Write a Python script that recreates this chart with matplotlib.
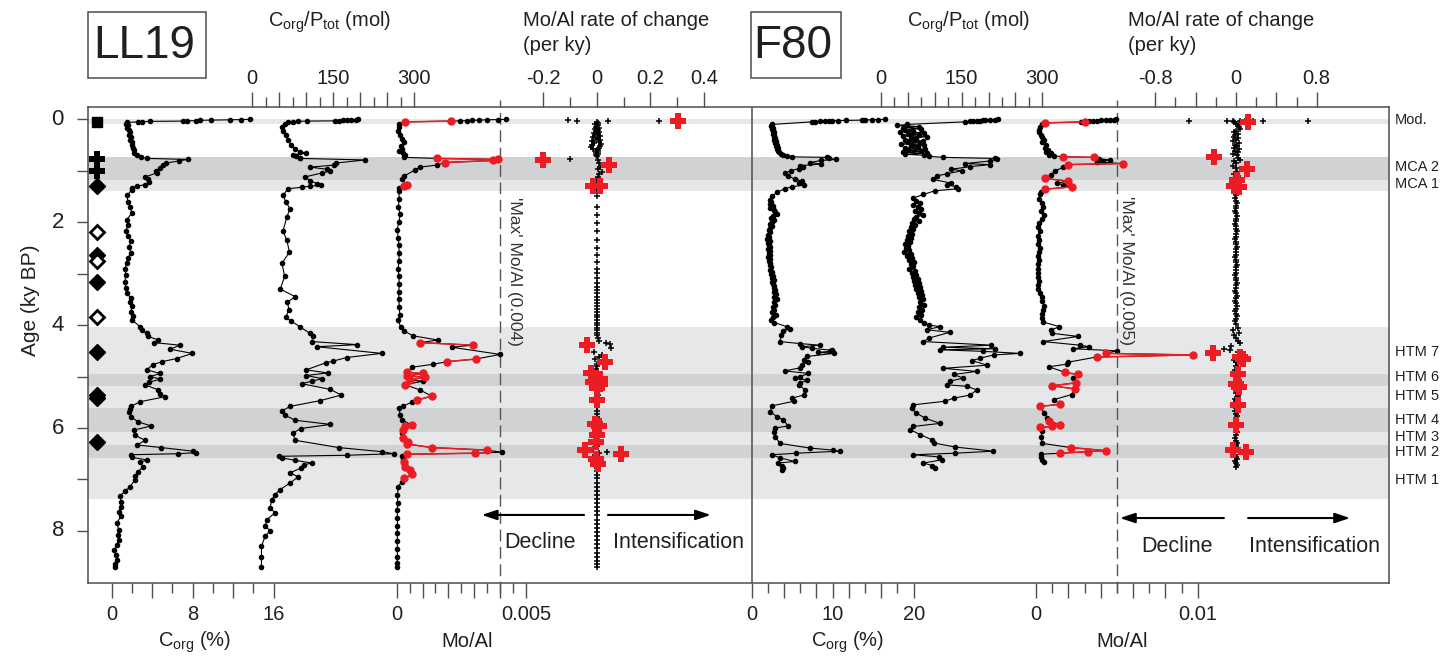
import matplotlib
matplotlib.use('Agg')
import matplotlib.pyplot as plt
import numpy as np
from matplotlib.ticker import FixedLocator, FixedFormatter, NullFormatter
from matplotlib.patches import Rectangle

plt.rcParams['font.family'] = ['Liberation Sans', 'DejaVu Sans']
plt.rcParams['mathtext.fontset'] = 'custom'
plt.rcParams['mathtext.rm'] = 'Liberation Sans'
plt.rcParams['mathtext.it'] = 'Liberation Sans:italic'

# ---------------- DATA ----------------
age_ticks = [0, 2, 4, 6, 8]
band_top = [-0.01, 0.735, 1.18, 4.03, 4.95, 5.18, 5.61, 6.07, 6.33, 6.58]
band_bot = [0.09, 1.18, 1.385, 4.95, 5.18, 5.61, 6.07, 6.33, 6.58, 7.38]
band_dark = [0, 1, 0, 0, 1, 0, 1, 0, 1, 0]
band_labels = ['Mod.', 'MCA 2', 'MCA 1', 'HTM 7', 'HTM 6', 'HTM 5', 'HTM 4', 'HTM 3', 'HTM 2', 'HTM 1']
band_label_ages = [0.02, 0.93, 1.26, 4.52, 5.01, 5.38, 5.85, 6.18, 6.47, 7.01]

sym_square_ages = [0.05]
sym_plus_ages = [0.77, 1.0]
sym_diamond_ages = [1.29, 2.64, 3.17, 4.53, 5.36, 5.42, 6.28]
sym_open_diamond_ages = [2.19, 2.75, 3.84]

ll19_corg = [(0.00,13.7),(0.005,12.8),(0.01,11.7),(0.015,9.8),(0.02,8.7),(0.025,8.3),(0.03,7.4),(0.035,7.0),
    (0.04,3.8),(0.045,3.0),(0.05,2.6),(0.06,1.5),(0.09,1.4),(0.12,1.6),(0.16,1.5),(0.20,1.7),(0.25,1.8),(0.30,1.7),
    (0.35,1.9),(0.40,1.8),(0.45,2.0),(0.50,2.0),(0.55,2.1),(0.60,2.2),(0.65,2.2),(0.70,2.5),(0.74,2.9),
    (0.76,3.5),(0.78,7.5),(0.81,6.6),(0.85,5.4),(0.88,5.1),(0.95,4.8),(1.00,4.4),(1.04,4.5),(1.12,3.3),(1.17,3.6),
    (1.22,3.7),(1.27,3.3),(1.30,2.5),(1.33,2.0),(1.37,2.0),(1.48,1.5),(1.60,1.6),(1.70,1.8),(1.82,2.0),(1.95,1.5),
    (2.05,1.6),(2.17,1.4),(2.27,1.6),(2.37,1.9),(2.48,1.7),(2.59,1.9),(2.70,1.6),(2.80,1.5),(2.90,1.3),(3.03,1.4),
    (3.16,1.3),(3.28,1.4),(3.38,1.5),(3.48,1.9),(3.55,1.8),(3.63,2.0),(3.74,1.9),(3.82,2.1),(3.90,2.0),
    (4.03,2.8),(4.10,3.0),(4.16,3.45),(4.22,3.6),(4.29,4.6),(4.34,4.2),(4.39,6.7),(4.47,5.8),(4.55,7.96),(4.65,6.4),
    (4.71,5.0),(4.77,4.05),(4.87,3.45),(4.94,4.8),(5.00,3.8),(5.05,4.8),(5.11,3.7),(5.16,3.3),(5.26,4.6),(5.33,4.8),
    (5.39,5.3),(5.49,2.8),(5.58,1.9),(5.63,1.8),(5.68,1.7),(5.78,1.9),(5.88,2.6),(5.96,3.9),(6.04,2.2),(6.14,2.3),
    (6.24,3.3),(6.33,2.5),(6.38,4.9),(6.45,8.0),(6.48,8.3),(6.50,6.5),(6.52,1.9),(6.57,2.0),(6.62,3.45),(6.67,2.8),
    (6.75,3.1),(6.85,2.6),(6.94,2.3),(7.01,2.3),(7.14,1.8),(7.23,1.3),(7.33,0.8),(7.43,0.95),(7.53,0.9),(7.63,0.7),
    (7.72,0.9),(7.85,0.5),(7.98,0.7),(8.08,0.6),(8.17,0.7),(8.27,0.5),(8.37,0.25),(8.47,0.4),(8.56,0.5),(8.64,0.3),(8.70,0.35)]

ll19_cp = [(0.00,197),(0.005,192),(0.01,184),(0.015,175),(0.02,169),(0.025,160),(0.03,153),(0.035,101),(0.04,85),
    (0.045,76),(0.05,67),(0.09,60),(0.15,55),(0.22,57),(0.30,62),(0.40,66),(0.50,72),(0.58,80),(0.63,88),(0.66,100),
    (0.69,75),(0.72,82),(0.745,88),(0.76,88),(0.79,210),(0.85,155),(0.89,152),(0.93,107),(0.97,138),(1.01,144),
    (1.04,130),(1.12,98),(1.19,107),(1.25,120),(1.28,128),(1.30,107),(1.32,92),(1.35,66),(1.48,57),(1.60,62),
    (1.74,70),(1.90,64),(2.17,57),(2.35,64),(2.58,69),(2.80,55),(3.05,60),(3.30,52),(3.45,80),(3.55,65),(3.70,68),
    (3.85,62),(3.92,72),(4.03,88),(4.16,107),(4.22,113),(4.32,110),(4.38,195),(4.42,120),(4.55,240),(4.63,175),
    (4.70,150),(4.73,137),(4.87,100),(4.93,140),(4.98,100),(5.04,130),(5.09,110),(5.14,92),(5.25,145),(5.36,165),
    (5.47,125),(5.58,70),(5.67,55),(5.75,60),(5.85,80),(5.93,145),(6.01,90),(6.10,75),(6.24,80),(6.38,160),
    (6.46,240),(6.50,262),(6.53,175),(6.55,50),(6.58,55),(6.63,80),(6.68,110),(6.72,95),(6.78,90),(6.87,70),
    (6.95,85),(7.07,70),(7.20,51),(7.30,42),(7.40,36),(7.55,33),(7.65,42),(7.78,27),(7.90,24),(8.00,33),(8.10,24),
    (8.30,17),(8.50,17),(8.70,17)]

# (age, Mo/Al, highlighted)
ll19_moal = [(0.000,0.00423,0),(0.005,0.00393,0),(0.01,0.00348,0),(0.015,0.00320,0),(0.02,0.00290,0),(0.025,0.00270,0),
    (0.03,0.00245,0),(0.035,0.00209,1),(0.05,0.00032,1),(0.09,0.00010,0),(0.15,0.00008,0),(0.22,0.00006,0),
    (0.30,0.00012,0),(0.38,0.00020,0),(0.45,0.00030,0),(0.52,0.00018,0),(0.58,0.00022,0),(0.62,0.00010,0),
    (0.66,0.00026,0),(0.70,0.00032,0),(0.74,0.00030,0),(0.76,0.00155,1),(0.78,0.00393,1),(0.80,0.00374,1),
    (0.84,0.00187,1),(0.89,0.00155,0),(0.93,0.00090,0),(0.98,0.00072,0),(1.10,0.00030,0),(1.17,0.00020,0),
    (1.25,0.00035,0),(1.28,0.00040,1),(1.30,0.00030,1),(1.33,0.00010,0),(1.40,0.00008,0),(1.55,0.00010,0),
    (1.70,0.00006,0),(1.85,0.00014,0),(2.00,0.00008,0),(2.15,0.00002,0),(2.30,0.00006,0),(2.45,0.00008,0),
    (2.60,0.00010,0),(2.75,0.00008,0),(2.90,0.00006,0),(3.05,0.00008,0),(3.20,0.00010,0),(3.35,0.00008,0),
    (3.50,0.00008,0),(3.65,0.00010,0),(3.80,0.00012,0),(3.90,0.00005,0),(4.03,0.00015,0),(4.12,0.00030,0),
    (4.21,0.00064,0),(4.29,0.00160,0),(4.34,0.00090,1),(4.39,0.00294,1),(4.43,0.00213,0),(4.57,0.00400,0),
    (4.66,0.00306,1),(4.71,0.00196,1),(4.76,0.00142,0),(4.82,0.00058,0),(4.92,0.00039,1),(4.94,0.00100,1),
    (4.99,0.00039,1),(5.01,0.00109,1),(5.07,0.00051,1),(5.09,0.00100,0),(5.16,0.00032,1),(5.26,0.00090,0),
    (5.38,0.00135,1),(5.46,0.00077,1),(5.50,0.00058,0),(5.57,0.00026,0),(5.62,0.00010,0),(5.75,0.00013,0),
    (5.84,0.00019,0),(5.94,0.00058,1),(5.96,0.00032,1),(6.03,0.00026,1),(6.10,0.00019,0),(6.20,0.00026,1),
    (6.27,0.00045,1),(6.31,0.00039,1),(6.38,0.00135,1),(6.43,0.00348,1),(6.47,0.00406,0),(6.49,0.00303,1),
    (6.51,0.00039,1),(6.55,0.00020,0),(6.60,0.00026,0),(6.66,0.00030,1),(6.75,0.00032,1),(6.81,0.00050,1),
    (6.90,0.00060,1),(6.98,0.00030,1),(7.04,0.00020,0),(7.14,0.00006,0),(7.30,0.00003,0),(7.45,0.00004,0),
    (7.60,0.00002,0),(7.75,0.00003,0),(7.90,0.00003,0),(8.05,0.00002,0),(8.20,0.00003,0),(8.35,0.00002,0),
    (8.50,0.00003,0),(8.62,0.00002,0),(8.70,0.00003,0)]

ll19_rate = [(0.02,-0.108),(0.025,-0.075),(0.03,0.043),(0.03,0.233),
    (0.06,0.0),(0.08,0.006),(0.10,-0.006),(0.12,0.004),(0.14,-0.004),(0.16,0.008),(0.18,-0.008),(0.20,0.006),
    (0.22,-0.004),(0.24,0.010),(0.26,-0.010),(0.28,0.004),(0.30,-0.006),(0.32,0.012),(0.34,-0.012),(0.36,0.006),
    (0.38,-0.004),(0.40,0.014),(0.42,-0.016),(0.44,0.010),(0.46,-0.010),(0.48,0.016),(0.50,-0.018),(0.52,0.012),
    (0.54,-0.022),(0.56,0.008),(0.58,-0.012),(0.60,0.006),(0.62,-0.004),(0.64,0.004),(0.66,-0.002),(0.68,0.003),
    (0.70,-0.004),(0.72,0.002),(0.77,-0.10),(0.80,0.004),(0.84,0.010),(0.92,0.012),(0.97,0.005),(1.02,0.018),
    (1.07,0.010),(1.13,0.004),(1.18,-0.004),(1.23,0.003),(1.33,0.0),(1.38,0.0),
    (1.50,0.0),(1.70,0.0),(1.86,0.0),(2.02,0.0),(2.18,0.0),(2.35,0.0),(2.51,0.0),(2.64,0.0),(2.77,0.0),(2.90,0.0),
    (2.99,0.0),(3.09,0.0),(3.19,0.0),(3.25,0.0),(3.32,0.0),(3.38,0.0),(3.45,0.0),(3.51,0.0),(3.57,0.0),(3.63,0.0),
    (3.69,0.0),(3.75,0.0),(3.80,0.0),(3.85,0.0),(3.90,0.0),(3.95,0.0),(4.00,0.0),(4.05,0.0),(4.10,0.0),(4.15,0.0),
    (4.20,0.0),(4.26,0.005),(4.31,0.01),(4.35,0.035),(4.37,0.048),(4.45,0.055),
    (4.52,-0.01),(4.58,0.02),(4.62,0.01),(4.66,-0.005),(4.75,0.0),(4.80,0.0),(4.86,-0.003),(4.91,0.0),
    (4.97,0.004),(5.01,-0.012),(5.06,0.016),(5.12,0.0),(5.18,0.004),(5.24,0.0),(5.30,0.0),(5.36,0.003),
    (5.42,0.0),(5.48,0.0),(5.54,0.0),(5.60,0.0),(5.66,0.0),(5.72,0.0),(5.78,0.0),(5.84,0.0),(5.89,0.0),
    (6.00,0.0),(6.05,0.0),(6.10,0.0),(6.16,0.0),(6.22,0.0),(6.35,0.0),(6.40,-0.015),(6.46,0.037),(6.49,0.01),
    (6.53,-0.005),(6.56,0.005),(6.61,0.0),(6.66,0.0),(6.72,0.0),(6.78,0.0),(6.84,0.0),(6.92,0.0),(6.97,0.0),
    (7.06,0.0),(7.14,0.0),(7.22,0.0),(7.30,0.0),(7.38,0.0),(7.46,0.0),(7.54,0.0),(7.62,0.0),(7.70,0.0),(7.78,0.0),
    (7.86,0.0),(7.94,0.0),(8.02,0.0),(8.10,0.0),(8.18,0.0),(8.26,0.0),(8.34,0.0),(8.42,0.0),(8.50,0.0),(8.58,0.0),
    (8.65,0.0),(8.71,0.0)]

ll19_rate_red = [(0.03,0.304),(0.79,-0.199),(0.89,0.046),(1.29,-0.012),(1.29,0.012),(4.39,-0.037),(4.71,0.031),
    (4.94,-0.022),(5.04,0.012),(5.10,-0.015),(5.15,0.012),(5.22,0.002),(5.45,0.0),(5.92,-0.005),(5.96,0.01),
    (6.13,0.0),(6.28,-0.003),(6.43,-0.043),(6.51,0.089),(6.60,-0.004),(6.70,0.004)]

f80_corg = [(0.00,16.5),(0.004,15.6),(0.008,14.8),(0.012,14.0),(0.016,13.6),(0.02,11.7),(0.024,10.7),(0.028,9.9),
    (0.032,9.5),(0.036,9.0),(0.04,8.4),(0.044,7.8),(0.05,7.4),(0.10,2.5),(0.13,2.4),(0.16,2.6),(0.19,2.5),(0.22,2.6),
    (0.25,2.7),(0.28,2.6),(0.31,2.8),(0.34,2.7),(0.37,2.9),(0.40,2.8),(0.43,3.0),(0.46,2.9),(0.49,3.1),(0.52,3.0),
    (0.55,3.2),(0.58,3.1),(0.61,3.3),(0.64,3.4),(0.67,3.6),(0.69,3.9),(0.71,4.4),(0.73,5.0),(0.74,9.3),(0.76,9.6),
    (0.78,10.4),(0.80,8.6),(0.84,7.2),(0.87,8.6),(0.90,6.0),(0.93,6.3),(0.96,5.8),(1.00,4.8),(1.05,4.1),(1.10,4.5),
    (1.16,5.3),(1.20,6.2),(1.24,5.9),(1.28,6.4),(1.31,5.0),(1.35,4.1),(1.42,3.1),(1.50,2.5),(1.57,2.3),(1.60,2.4),
    (1.64,2.2),(1.68,2.6),(1.72,2.3),(1.76,2.8),(1.80,2.9),(1.84,3.1),(1.88,2.6),(1.92,2.4),(1.96,2.7),(2.00,2.5),
    (2.04,2.3),(2.08,2.5),(2.12,2.2),(2.16,2.1),(2.20,2.3),(2.24,2.0),(2.28,2.1),(2.32,1.9),(2.36,2.2),(2.40,2.0),
    (2.44,2.1),(2.48,2.3),(2.52,2.0),(2.56,2.2),(2.60,2.1),(2.64,2.3),(2.68,2.0),(2.72,2.2),(2.76,2.1),(2.80,2.3),
    (2.84,2.2),(2.88,2.4),(2.92,2.3),(2.96,2.5),(3.00,2.4),(3.04,2.6),(3.08,2.5),(3.12,2.7),(3.16,2.5),(3.20,2.6),
    (3.24,2.8),(3.28,2.7),(3.32,2.9),(3.36,2.8),(3.40,3.0),(3.45,2.8),(3.50,3.1),(3.55,2.7),(3.60,2.9),(3.65,2.6),
    (3.70,2.8),(3.75,2.5),(3.80,3.0),(3.85,2.6),(3.90,2.4),(3.95,2.8),(4.03,4.3),(4.07,4.7),(4.12,3.9),(4.20,3.6),
    (4.32,3.5),(4.36,6.0),(4.39,8.4),(4.42,6.2),(4.45,7.4),(4.49,9.9),(4.51,9.7),(4.53,8.2),(4.55,10.1),(4.61,6.8),
    (4.67,6.4),(4.71,7.0),(4.78,6.2),(4.83,6.0),(4.89,4.1),(4.94,7.0),(5.00,6.0),(5.03,5.4),(5.07,6.8),(5.13,6.0),
    (5.16,5.8),(5.26,6.6),(5.36,6.4),(5.42,5.0),(5.48,5.2),(5.57,2.5),(5.68,2.3),(5.78,3.1),(5.84,3.9),(5.96,4.5),
    (6.00,2.9),(6.07,2.7),(6.17,2.9),(6.30,3.5),(6.39,7.2),(6.43,10.0),(6.45,10.9),(6.49,5.5),(6.52,2.5),(6.58,3.5),
    (6.65,5.3),(6.68,3.3),(6.74,3.7),(6.78,3.9),(6.81,3.7)]

f80_cp = [(0.00,218),(0.005,212),(0.01,203),(0.015,194),(0.02,190),(0.025,184),(0.03,178),(0.035,172),(0.04,166),
    (0.05,156),(0.10,48),(0.12,30),(0.14,70),(0.16,40),(0.18,75),(0.20,45),(0.22,60),(0.24,35),(0.26,80),(0.28,50),
    (0.30,70),(0.32,40),(0.34,85),(0.36,55),(0.38,65),(0.40,45),(0.42,78),(0.44,50),(0.46,72),(0.48,38),(0.50,80),
    (0.52,55),(0.54,68),(0.56,45),(0.58,82),(0.60,50),(0.62,75),(0.64,40),(0.66,85),(0.68,45),(0.70,80),(0.72,90),
    (0.74,116),(0.76,212),(0.78,215),(0.81,203),(0.86,156),(0.88,203),(0.92,166),(0.97,131),(1.00,150),(1.06,122),
    (1.10,104),(1.17,97),(1.24,131),(1.27,122),(1.31,140),(1.35,143),(1.39,100),(1.46,79),(1.53,60),(1.58,66),
    (1.62,72),(1.66,60),(1.70,68),(1.74,74),(1.78,64),(1.82,70),(1.86,78),(1.90,66),(1.94,62),(1.98,70),(2.02,58),
    (2.06,64),(2.10,55),(2.14,60),(2.18,52),(2.22,58),(2.26,50),(2.30,56),(2.34,48),(2.38,54),(2.42,44),(2.46,50),
    (2.50,46),(2.54,52),(2.58,42),(2.62,55),(2.66,48),(2.70,58),(2.74,52),(2.78,62),(2.82,55),(2.86,60),(2.90,52),
    (2.94,64),(2.98,58),(3.02,66),(3.06,60),(3.10,68),(3.14,62),(3.18,70),(3.22,64),(3.26,72),(3.30,66),(3.34,74),
    (3.38,68),(3.42,76),(3.46,70),(3.50,78),(3.55,72),(3.60,80),(3.65,70),(3.70,76),(3.75,68),(3.80,74),(3.85,66),
    (3.90,72),(3.95,80),(4.00,90),(4.03,110),(4.09,85),(4.14,128),(4.25,90),(4.32,79),(4.39,205),(4.43,116),
    (4.46,212),(4.48,110),(4.51,190),(4.55,258),(4.58,210),(4.64,185),(4.69,170),(4.78,197),(4.84,116),(4.90,178),
    (4.96,135),(5.03,153),(5.09,128),(5.16,122),(5.19,160),(5.26,178),(5.36,166),(5.42,135),(5.48,119),(5.55,60),
    (5.62,57),(5.71,66),(5.81,82),(5.91,110),(5.97,60),(6.03,54),(6.13,73),(6.23,95),(6.29,98),(6.37,138),
    (6.45,209),(6.49,138),(6.52,60),(6.56,107),(6.62,113),(6.68,79),(6.73,95),(6.78,101)]

f80_moal = [(0.000,0.00495,0),(0.005,0.00480,0),(0.01,0.00460,0),(0.015,0.00430,0),(0.02,0.00400,0),
    (0.025,0.00375,0),(0.03,0.00350,0),(0.035,0.00330,0),(0.04,0.00300,0),(0.045,0.00280,0),(0.05,0.00303,1),
    (0.07,0.00056,1),(0.10,0.00035,0),(0.15,0.00025,0),(0.20,0.00020,0),(0.25,0.00020,0),(0.30,0.00030,0),
    (0.35,0.00040,0),(0.40,0.00050,0),(0.45,0.00040,0),(0.50,0.00060,0),(0.55,0.00055,0),(0.60,0.00075,0),
    (0.63,0.00060,0),(0.66,0.00090,0),(0.69,0.00080,0),(0.71,0.00110,0),(0.73,0.00169,1),(0.74,0.00360,1),
    (0.77,0.00390,0),(0.79,0.00457,0),(0.81,0.00416,0),(0.83,0.00380,0),(0.86,0.00536,1),(0.88,0.00199,1),
    (0.93,0.00170,0),(1.00,0.00120,0),(1.08,0.00090,0),(1.15,0.00056,1),(1.20,0.00195,1),(1.24,0.00130,0),
    (1.28,0.00170,0),(1.31,0.00225,1),(1.36,0.00056,1),(1.41,0.00030,0),(1.46,0.00025,0),(1.54,0.00020,0),
    (1.62,0.00035,0),(1.70,0.00045,0),(1.78,0.00030,0),(1.86,0.00050,0),(1.94,0.00035,0),(2.02,0.00020,0),
    (2.10,0.00015,0),(2.18,0.00025,0),(2.26,0.00010,0),(2.34,0.00020,0),(2.42,0.00015,0),(2.50,0.00025,0),
    (2.58,0.00020,0),(2.66,0.00010,0),(2.74,0.00020,0),(2.82,0.00015,0),(2.90,0.00010,0),(2.98,0.00015,0),
    (3.06,0.00010,0),(3.14,0.00020,0),(3.22,0.00010,0),(3.30,0.00015,0),(3.38,0.00025,0),(3.46,0.00035,0),
    (3.54,0.00040,0),(3.62,0.00050,0),(3.70,0.00045,0),(3.78,0.00040,0),(3.86,0.00035,0),(3.94,0.00045,0),
    (4.03,0.00145,0),(4.10,0.00090,0),(4.16,0.00100,0),(4.22,0.00260,0),(4.32,0.00045,0),(4.39,0.00270,0),
    (4.42,0.00330,0),(4.46,0.00230,0),(4.50,0.00500,0),(4.55,0.00430,1),(4.58,0.00970,1),(4.62,0.00375,1),
    (4.72,0.00200,0),(4.76,0.00190,0),(4.81,0.00080,0),(4.92,0.00180,1),(4.96,0.00260,1),(5.02,0.00230,0),
    (5.12,0.00250,1),(5.18,0.00100,1),(5.24,0.00240,1),(5.35,0.00220,0),(5.45,0.00110,0),(5.54,0.00150,1),
    (5.58,0.00025,1),(5.70,0.00050,0),(5.80,0.00070,0),(5.86,0.00080,1),(5.94,0.00150,1),(5.97,0.00100,1),
    (5.99,0.00025,1),(6.05,0.00040,0),(6.18,0.00030,0),(6.30,0.00040,0),(6.38,0.00215,1),(6.44,0.00430,1),
    (6.46,0.00320,1),(6.49,0.00150,1),(6.51,0.00030,0),(6.56,0.00030,0),(6.62,0.00040,0),(6.67,0.00050,0)]

f80_rate = [(0.03,-0.47),(0.03,-0.09),(0.035,-0.03),(0.04,0.04),(0.04,0.09),(0.035,0.17),(0.03,0.27),(0.03,0.71),
    (0.06,-0.02),(0.09,0.0),(0.12,0.02),(0.15,0.03),(0.18,0.04),(0.22,0.0),(0.25,-0.02),(0.28,0.02),(0.31,-0.01),
    (0.34,-0.02),(0.37,0.02),(0.40,0.0),(0.43,-0.03),(0.46,0.03),(0.49,-0.01),(0.52,0.01),(0.55,-0.02),(0.58,0.03),
    (0.61,-0.01),(0.64,0.02),(0.67,-0.03),(0.70,0.01),(0.76,0.02),(0.79,0.04),(0.82,-0.02),(0.84,0.0),(0.90,-0.03),
    (0.94,0.0),(1.02,0.01),(1.06,-0.02),(1.10,0.02),(1.14,-0.01),(1.22,0.01),(1.26,-0.02),(1.34,0.0),(1.38,0.01),
    (1.43,0.0),(1.48,0.0),(1.53,-0.01),(1.58,0.0),(1.63,0.01),(1.68,0.0),(1.73,0.0),(1.78,-0.01),(1.83,0.0),
    (1.88,0.01),(1.93,0.0),(1.98,0.0),(2.03,-0.01),(2.08,0.0),(2.13,0.0),(2.18,0.01),(2.23,0.0),(2.28,0.0),
    (2.33,-0.01),(2.38,0.0),(2.43,0.0),(2.48,0.01),(2.53,0.0),(2.58,0.0),(2.63,0.0),(2.68,-0.01),(2.73,0.0),
    (2.78,0.0),(2.83,0.01),(2.88,0.0),(2.93,0.0),(2.98,0.0),(3.03,-0.01),(3.08,0.0),(3.13,0.0),(3.18,0.01),
    (3.23,0.0),(3.28,0.0),(3.33,-0.01),(3.38,0.0),(3.43,0.01),(3.48,0.0),(3.53,-0.01),(3.58,0.0),(3.63,0.01),
    (3.68,0.0),(3.73,-0.01),(3.78,0.0),(3.83,0.01),(3.88,0.0),(3.93,-0.01),(3.98,0.0),(4.05,0.02),(4.10,-0.03),
    (4.15,0.03),(4.20,-0.02),(4.26,0.0),(4.30,0.02),(4.35,0.04),(4.40,-0.05),(4.46,-0.12),(4.49,-0.06),(4.52,0.02),
    (4.60,0.03),(4.68,-0.02),(4.72,0.0),(4.76,0.02),(4.80,0.0),(4.85,0.02),(4.88,-0.01),(4.92,0.01),(4.99,-0.01),
    (5.04,0.02),(5.08,0.0),(5.12,-0.02),(5.17,0.01),(5.22,-0.01),(5.28,0.01),(5.32,0.0),(5.38,0.02),(5.43,-0.01),
    (5.48,0.0),(5.52,0.01),(5.62,0.0),(5.66,-0.01),(5.72,0.0),(5.76,0.01),(5.82,0.0),(5.90,-0.01),(6.02,0.0),
    (6.08,0.01),(6.13,0.0),(6.20,-0.01),(6.25,0.0),(6.30,0.01),(6.34,0.0),(6.40,0.02),(6.52,-0.01),(6.56,0.0),
    (6.60,0.01),(6.64,-0.01),(6.68,0.0),(6.72,0.01),(6.76,0.0)]

f80_rate_red = [(0.05,0.12),(0.73,-0.22),(0.97,0.11),(1.18,0.01),(1.29,-0.02),(1.32,0.03),(4.55,-0.23),
    (4.62,0.04),(4.66,0.07),(4.95,0.02),(5.15,0.0),(5.20,0.03),(5.55,0.02),(5.95,0.0),(6.42,-0.03),(6.47,0.10)]

# ---------------- LAYOUT ----------------
W, H = 1441, 657
fig = plt.figure(figsize=(W / 100, H / 100), dpi=100)
L, R, T, B = 88, 1389, 107, 583
rect = [L / W, 1 - B / H, (R - L) / W, (B - T) / H]
Y0, KY = 119.3, 51.45          # pixel of age 0, pixels per ky
YLIM = ((B - Y0) / KY, (T - Y0) / KY)
FRAME = '#4d4d4d'
RED = '#ed1c24'
TXT = '#231f20'

ax = fig.add_axes(rect)
ax.set_xlim(0, 1)
ax.set_ylim(*YLIM)
ax.set_xticks([])
for s in ax.spines.values():
    s.set_color(FRAME)
    s.set_linewidth(1.1)
for t, b, d in zip(band_top, band_bot, band_dark):
    ax.axhspan(t, b, color='#d1d2d4' if d else '#e6e7e8', lw=0, zorder=0)
ax.set_yticks(age_ticks)
ax.set_yticks([1, 3, 5, 7], minor=True)
ax.tick_params(axis='y', which='both', direction='out', length=8, width=1, color=FRAME,
               labelleft=False)
for a_t in age_ticks:
    ax.text(-(88 - 64) / (R - L), a_t, str(a_t), transform=ax.get_yaxis_transform(), ha='right',
            va='center', fontsize=16, color=TXT)
for lab, a in zip(band_labels, band_label_ages):
    ax.text(1.0046, a, lab, transform=ax.get_yaxis_transform(), ha='left', va='center',
            fontsize=10.5, color=TXT)

# core-age symbols
ax.plot([0.0072] * len(sym_square_ages), sym_square_ages, 's', color='black', ms=6.5, zorder=5)
ax.plot([0.0072] * len(sym_plus_ages), sym_plus_ages, 'P', color='black', ms=11, mew=0, zorder=5)
ax.plot([0.0072] * len(sym_diamond_ages), sym_diamond_ages, 'D', color='black', ms=8, zorder=5)
ax.plot([0.0072] * len(sym_open_diamond_ages), sym_open_diamond_ages, 'D', mfc='white', mec='black',
        ms=7, mew=2, zorder=6)


def series_axes(p0, k, side, major, labels, minor, labelpad):
    a = fig.add_axes(rect)
    a.set_xlim((L - p0) / k, (R - p0) / k)
    a.set_ylim(*YLIM)
    a.patch.set_visible(False)
    for s in a.spines.values():
        s.set_visible(False)
    a.set_yticks([])
    a.xaxis.set_ticks_position(side)
    a.xaxis.set_major_locator(FixedLocator(major))
    a.xaxis.set_major_formatter(FixedFormatter(labels))
    a.xaxis.set_minor_locator(FixedLocator(minor))
    a.xaxis.set_minor_formatter(NullFormatter())
    a.tick_params(axis='x', which='major', direction='out', length=11, width=1, color=FRAME,
                  labelsize=14.5, pad=labelpad, labelcolor=TXT)
    a.tick_params(axis='x', which='minor', direction='out', length=7, width=1, color=FRAME)
    return a


def draw_line(a, pairs):
    age = [p[0] for p in pairs]
    val = [p[1] for p in pairs]
    a.plot(val, age, '-o', color='black', lw=0.8, ms=3, zorder=3)


def draw_moal(a, rows):
    age = np.array([r[0] for r in rows])
    val = np.array([r[1] for r in rows])
    hl = np.array([r[2] for r in rows]).astype(bool)
    a.plot(val, age, '-o', color='black', lw=0.8, ms=3, zorder=3)
    for i in range(len(rows) - 1):
        if hl[i] and hl[i + 1]:
            a.plot(val[i:i + 2], age[i:i + 2], '-', color=RED, lw=1.1, zorder=4)
    a.plot(val[hl], age[hl], 'o', color=RED, ms=5, zorder=5)


def draw_rate(a, pairs, red):
    a.plot([p[1] for p in pairs], [p[0] for p in pairs], '+', color='black', ms=5, mew=1.1, zorder=3)
    a.plot([p[1] for p in red], [p[0] for p in red], 'P', color=RED, ms=11.5, mew=0, zorder=5)


pad_b, pad_t = 5, 3
# LL19
a1 = series_axes(111.7, 10.125, 'bottom', [0, 4, 8, 12, 16], ['0', '', '8', '', '16'], [2, 6, 10, 14], pad_b)
draw_line(a1, ll19_corg)
a2 = series_axes(252.3, 0.539, 'top', [0, 50, 100, 150, 200, 250, 300], ['0', '', '', '150', '', '', '300'],
                 [25, 75, 125, 175, 225, 275], pad_t)
draw_line(a2, ll19_cp)
a3 = series_axes(396.7, 25860, 'bottom', [0, 0.001, 0.002, 0.003, 0.004, 0.005], ['0', '', '', '', '', '0.005'],
                 [0.0005, 0.0015, 0.0025, 0.0035, 0.0045], pad_b)
draw_moal(a3, ll19_moal)
a3.axvline(0.004, ymin=-0.021, ymax=1.015, color='#555555', lw=1, ls=(0, (8.5, 4)), clip_on=False, zorder=2)
a3.text(0.00455, 2.95, "'Max' Mo/Al (0.004)", rotation=270, ha='center', va='center',
        fontsize=12.5, color='#333333')
a4 = series_axes(596.7, 268.5, 'top', [-0.2, 0, 0.2, 0.4], ['-0.2', '0', '0.2', '0.4'], [-0.1, 0.1, 0.3], pad_t)
draw_rate(a4, ll19_rate, ll19_rate_red)
arrow_kw = dict(arrowstyle='-|>,head_length=0.9,head_width=0.3', color='black', lw=1.5, shrinkA=0, shrinkB=0)
a4.annotate('', xy=(-0.428, 7.69), xytext=(-0.047, 7.69), arrowprops=arrow_kw)
a4.annotate('', xy=(0.425, 7.69), xytext=(0.042, 7.69), arrowprops=arrow_kw)
a4.text(-0.21, 8.23, 'Decline', ha='center', va='center', fontsize=15.5, color=TXT)
a4.text(0.305, 8.23, 'Intensification', ha='center', va='center', fontsize=15.5, color=TXT)

# F80
b1 = series_axes(751.7, 8.1, 'bottom', [0, 4, 8, 10, 12, 16, 20], ['0', '', '', '10', '', '', '20'],
                 [2, 6, 14, 18], pad_b)
draw_line(b1, f80_corg)
b1.axvline(0, color=FRAME, lw=1.1, zorder=1)
b2 = series_axes(881, 0.5377, 'top', [0, 50, 100, 150, 200, 250, 300], ['0', '', '', '150', '', '', '300'],
                 [25, 75, 125, 175, 225, 275], pad_t)
draw_line(b2, f80_cp)
b3 = series_axes(1036, 16170, 'bottom', [0, 0.002, 0.004, 0.006, 0.008, 0.01], ['0', '', '', '', '', '0.01'],
                 [0.001, 0.003, 0.005, 0.007, 0.009], pad_b)
draw_moal(b3, f80_moal)
b3.axvline(0.005, ymin=-0.021, ymax=1.015, color='#555555', lw=1, ls=(0, (8.5, 4)), clip_on=False, zorder=2)
b3.text(0.00559, 2.93, "'Max' Mo/Al (0.005)", rotation=270, ha='center', va='center',
        fontsize=12.5, color='#333333')
b4 = series_axes(1236, 100.9, 'top', [-0.8, -0.4, 0, 0.4, 0.8], ['-0.8', '', '0', '', '0.8'],
                 [-0.6, -0.2, 0.2, 0.6], pad_t)
draw_rate(b4, f80_rate, f80_rate_red)
b4.annotate('', xy=(-1.15, 7.75), xytext=(-0.12, 7.75), arrowprops=arrow_kw)
b4.annotate('', xy=(1.13, 7.75), xytext=(0.12, 7.75), arrowprops=arrow_kw)
b4.text(-0.58, 8.31, 'Decline', ha='center', va='center', fontsize=15.5, color=TXT)
b4.text(0.78, 8.31, 'Intensification', ha='center', va='center', fontsize=15.5, color=TXT)

# ---------------- TEXT ----------------
def ftext(x, y, s, **kw):
    fig.text(x / W, 1 - y / H, s, **kw)

ftext(30, 300, 'Age (ky BP)', rotation=90, ha='center', va='center', fontsize=15, color=TXT)
cp_lab = r'C$_{\rm org}$/P$_{\rm tot}$ (mol)'
corg_lab = r'C$_{\rm org}$ (%)'
ftext(330, 27, cp_lab, ha='center', va='baseline', fontsize=14.5, color=TXT)
ftext(969, 27, cp_lab, ha='center', va='baseline', fontsize=14.5, color=TXT)
for x0 in (523, 1128):
    ftext(x0, 26, 'Mo/Al rate of change', ha='left', va='baseline', fontsize=14.5, color=TXT)
    ftext(x0, 51, '(per ky)', ha='left', va='baseline', fontsize=14.5, color=TXT)
ftext(195, 647, corg_lab, ha='center', va='baseline', fontsize=14.5, color=TXT)
ftext(848, 647, corg_lab, ha='center', va='baseline', fontsize=14.5, color=TXT)
ftext(467, 647, 'Mo/Al', ha='center', va='baseline', fontsize=14.5, color=TXT)
ftext(1122, 647, 'Mo/Al', ha='center', va='baseline', fontsize=14.5, color=TXT)

for (x0, y0, x1, y1, name, cx) in [(88, 12, 206, 77.5, 'LL19', 144), (751, 12, 841, 77.5, 'F80', 793)]:
    fig.patches.append(Rectangle((x0 / W, 1 - y1 / H), (x1 - x0) / W, (y1 - y0) / H, fill=False,
                                 ec=FRAME, lw=1.1, transform=fig.transFigure, figure=fig))
    ftext(cx, (y0 + y1) / 2 + 1, name, ha='center', va='center', fontsize=33, color=TXT)

fig.savefig('out.png', dpi=100)
